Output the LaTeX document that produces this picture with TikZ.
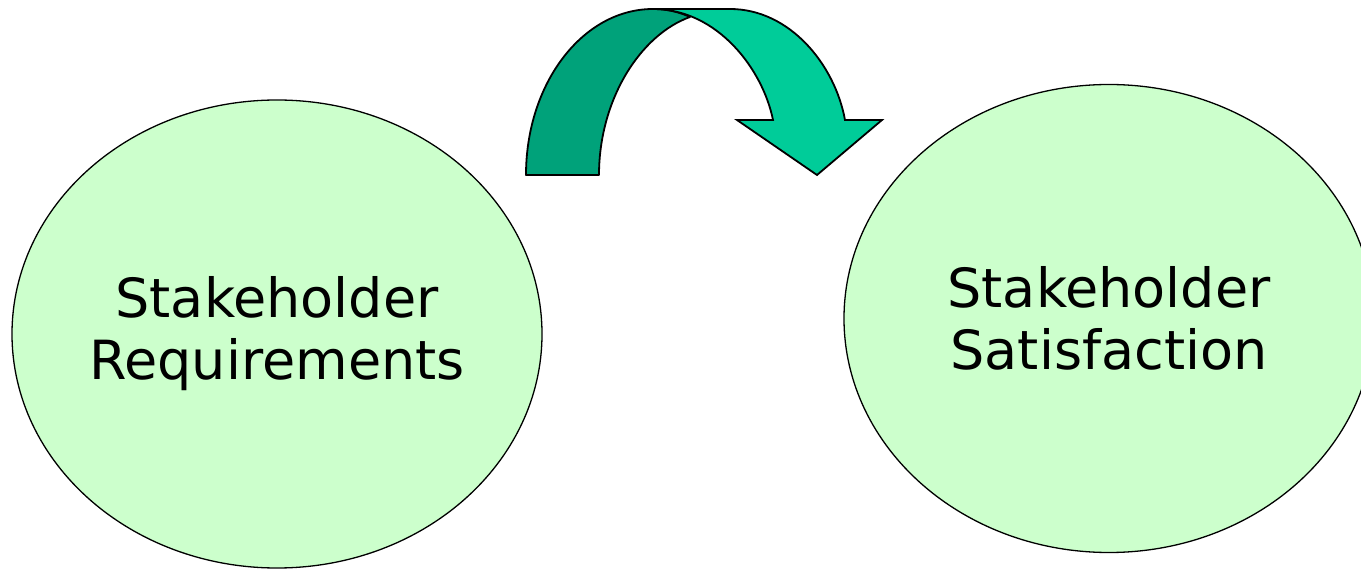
\documentclass[tikz,border=0pt]{standalone}
\usepackage{fontspec}
\setmainfont{DejaVu Sans}
\usetikzlibrary{shapes.geometric}
\definecolor{ovalfill}{HTML}{CCFFCC}
\definecolor{arrowback}{HTML}{00A27A}
\definecolor{arrowfront}{HTML}{00CC99}
\tikzset{
  oval/.style={ellipse, draw=black, line width=1.3pt, fill=ovalfill,
    minimum width=530pt, minimum height=468pt, inner sep=-40pt,
    align=center, font=\fontsize{54}{62}\selectfont},
  bandback/.style={draw=black, line width=1.8pt, fill=arrowback, line join=round},
  bandfront/.style={draw=black, line width=1.8pt, fill=arrowfront, line join=miter}
}
\begin{document}
\begin{tikzpicture}[x=1pt,y=-1pt]
\useasboundingbox (0,0) rectangle (1361,569);
\fill[white] (0,0) rectangle (1361,569);
\node[oval] (req) at (277,334) {Stakeholder\\Requirements};
\node[oval] (sat) at (1109,318.5) {Stakeholder\\Satisfaction};
% back part of curved arrow
\coordinate (bo) at (526,175);
\coordinate (bi) at (599,175);
\coordinate (top) at (653,9);
\coordinate (meet) at (690,17);
\draw[bandback] (bo) .. controls (526,83) and (583,9) .. (top)
  .. controls (667,9) and (679,12) .. (meet)
  .. controls (640,35) and (599,100) .. (bi) -- cycle;
% front part with head
\coordinate (otop) at (730,9);
\coordinate (osh) at (845,120);
\coordinate (rw) at (882,120);
\coordinate (tip) at (817,175);
\coordinate (lw) at (737,120);
\coordinate (ish) at (773,120);
\draw[bandfront] (top) -- (otop) .. controls (790,9) and (835,65) .. (osh)
  -- (rw) -- (tip) -- (lw) -- (ish)
  .. controls (763,70) and (718,9) .. (top) -- cycle;
\end{tikzpicture}
\end{document}
